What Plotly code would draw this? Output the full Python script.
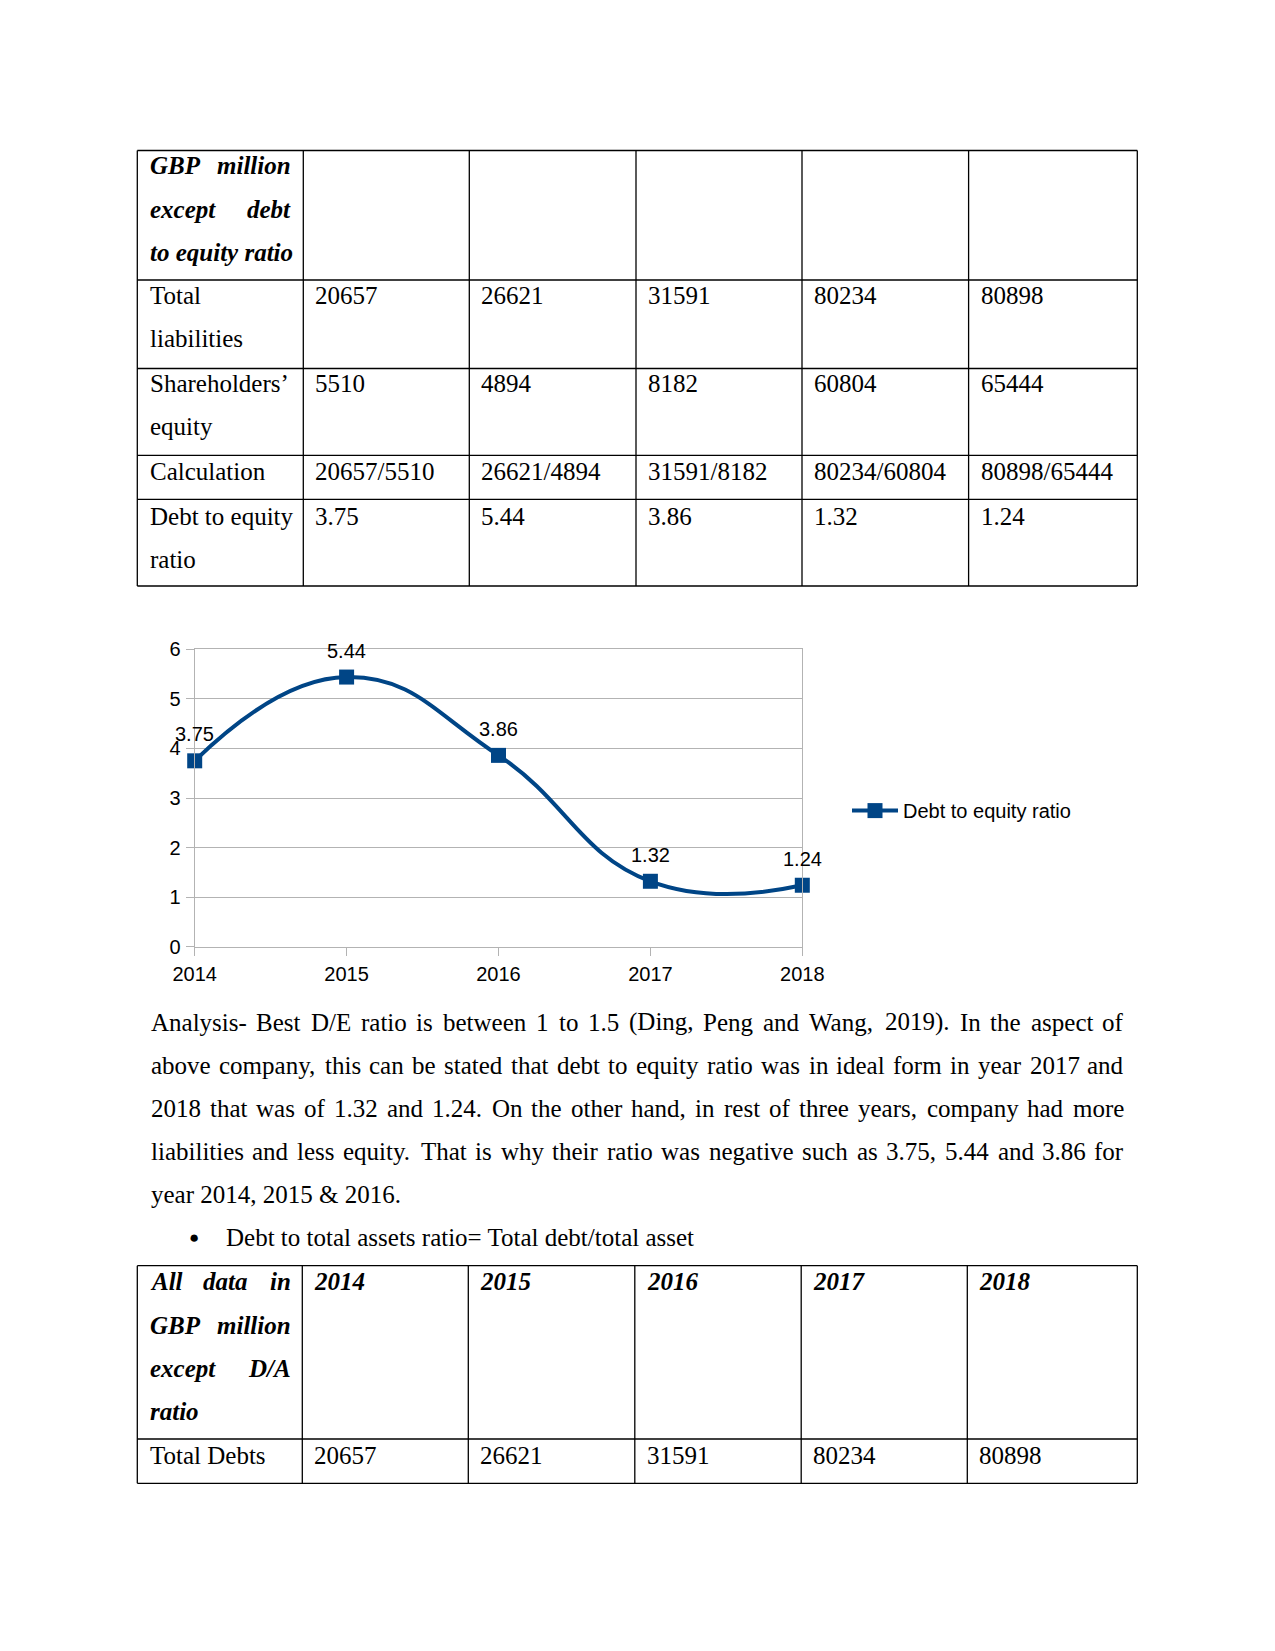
import plotly.graph_objects as go

# ---------------- data ----------------
years = [2014, 2015, 2016, 2017, 2018]
total_liabilities = [20657, 26621, 31591, 80234, 80898]
shareholders_equity = [5510, 4894, 8182, 60804, 65444]
de_ratio = [3.75, 5.44, 3.86, 1.32, 1.24]
y_ticks = [0, 1, 2, 3, 4, 5, 6]
series_name = "Debt to equity ratio"

paragraph_lines = [
    "Analysis- Best D/E ratio is between 1 to 1.5 (Ding, Peng and Wang, 2019). In the aspect of",
    "above company, this can be stated that debt to equity ratio was in ideal form in year 2017 and",
    "2018 that was of 1.32 and 1.24. On the other hand, in rest of three years, company had more",
    "liabilities and less equity. That is why their ratio was negative such as 3.75, 5.44 and 3.86 for",
    "year 2014, 2015 & 2016.",
]
bullet_text = "Debt to total assets ratio= Total debt/total asset"

# ---------------- page geometry ----------------
W, H = 1275, 1651
OFF = 8  # page body margin of the html page


def px(x):
    return (x - OFF) / W


def py(y):
    return 1 - (y - OFF) / H


TR = {' ': 250, '!': 333, '"': 408, '#': 500, '$': 500, '%': 833, '&': 778, "'": 180,
      '(': 333, ')': 333, '*': 500, '+': 564, ',': 250, '-': 333, '.': 250, '/': 278,
      ':': 278, ';': 278, '<': 564, '=': 564, '>': 564, '?': 444, '@': 921,
      'A': 722, 'B': 667, 'C': 667, 'D': 722, 'E': 611, 'F': 556, 'G': 722, 'H': 722,
      'I': 333, 'J': 389, 'K': 722, 'L': 611, 'M': 889, 'N': 722, 'O': 722, 'P': 556,
      'Q': 722, 'R': 667, 'S': 556, 'T': 611, 'U': 722, 'V': 722, 'W': 944, 'X': 722,
      'Y': 722, 'Z': 611, 'a': 444, 'b': 500, 'c': 444, 'd': 500, 'e': 444, 'f': 333,
      'g': 500, 'h': 500, 'i': 278, 'j': 278, 'k': 500, 'l': 278, 'm': 778, 'n': 500,
      'o': 500, 'p': 500, 'q': 500, 'r': 333, 's': 389, 't': 278, 'u': 500, 'v': 500,
      'w': 722, 'x': 500, 'y': 500, 'z': 444, '\u2019': 333}
for d in "0123456789":
    TR[d] = 500
TBI = dict(TR)
TBI.update({'A': 667, 'B': 667, 'D': 722, 'G': 722, 'P': 611, 'a': 500, 'n': 556,
            'u': 556, 'y': 444, 'r': 389, 'e': 444, 'x': 500})

FS = 25
SERIF = "Liberation Serif"
SANS = "Liberation Sans"
annotations = []
shapes = []


def text_w(s, table, size=FS):
    return sum(table.get(c, 500) for c in s) * size / 1000.0


def add_text(x, y, s, anchor="left", bi=False, size=FS, family=SERIF):
    t = f"<b><i>{s}</i></b>" if bi else s
    annotations.append(dict(x=px(x), y=py(y), xref="paper", yref="paper", text=t,
                            showarrow=False, xanchor=anchor, yanchor="middle",
                            borderpad=0, borderwidth=0,
                            font=dict(family=family, size=size, color="black")))


def justify(line, L, R, y, bi=False):
    words = line.split(" ")
    if len(words) == 1:
        add_text(L, y, line, bi=bi)
        return
    table = TBI if bi else TR
    ws = [text_w(w, table) for w in words]
    gap = (R - L - sum(ws)) / (len(words) - 1)
    x = L
    for i, w in enumerate(words):
        if i == len(words) - 1:
            add_text(R, y, w, anchor="right", bi=bi)
        else:
            add_text(x, y, w, bi=bi)
        x += ws[i] + gap


def hline(x0, x1, y):
    shapes.append(dict(type="line", xref="paper", yref="paper", x0=px(x0), x1=px(x1),
                       y0=py(y), y1=py(y), line=dict(color="black", width=1.3)))


def vline(x, y0, y1):
    shapes.append(dict(type="line", xref="paper", yref="paper", x0=px(x), x1=px(x),
                       y0=py(y0), y1=py(y1), line=dict(color="black", width=1.3)))


# ---------------- table 1 ----------------
cols1 = [137.3, 303.3, 469.3, 636, 802, 968.6, 1137.3]
rows1 = [150.5, 280, 368.5, 455.3, 499.3, 586]
for r in rows1:
    hline(cols1[0], cols1[-1], r)
for c in cols1:
    vline(c, rows1[0], rows1[-1])

LH = 43.3
PADL = 12
t1_left = 149.5
t1_right = 291.3

justify("GBP million", t1_left, t1_right, 166, bi=True)
justify("except debt", t1_left, t1_right, 166 + LH, bi=True)
add_text(t1_left, 166 + 2 * LH, "to equity ratio", bi=True)

row_labels1 = [["Total", "liabilities"], ["Shareholders\u2019", "equity"],
               ["Calculation"], ["Debt to equity", "ratio"]]
row_vals1 = [
    [str(v) for v in total_liabilities],
    [str(v) for v in shareholders_equity],
    [f"{a}/{b}" for a, b in zip(total_liabilities, shareholders_equity)],
    [f"{v:.2f}" for v in de_ratio],
]
row_first1 = [295.5, 383.3, 471.5, 516.3]
for lbls, vals, y0 in zip(row_labels1, row_vals1, row_first1):
    for k, s in enumerate(lbls):
        add_text(t1_left, y0 + k * LH, s)
    for j, v in enumerate(vals):
        add_text(cols1[j + 1] + PADL, y0, v)

# ---------------- chart ----------------
X0, X1 = 194.7, 802.3
Y_TOP, Y_BOT = 649.3, 946.7

fig = go.Figure()
fig.add_trace(go.Scatter(
    x=years, y=de_ratio, name=series_name,
    mode="lines+markers",
    line=dict(color="#004586", width=4, shape="spline", smoothing=1.3),
    marker=dict(symbol="square", size=15, color="#004586"),
    cliponaxis=False,
))
# data labels above each point
for xv, yv in zip(years, de_ratio):
    annotations.append(dict(x=xv, y=yv, xref="x", yref="y", text=f"{yv:.2f}",
                            showarrow=False, xanchor="center", yanchor="middle",
                            yshift=26.5, borderpad=0, borderwidth=0,
                            font=dict(family=SANS, size=20, color="black")))

axis_font = dict(family=SANS, size=20, color="black")
fig.update_xaxes(domain=[px(X0), px(X1)], range=[years[0], years[-1]],
                 tickvals=years, ticktext=[str(y) for y in years], automargin=False,
                 showgrid=False, zeroline=False, showline=True, linecolor="#b3b3b3",
                 linewidth=1, mirror=True, ticks="outside", ticklen=8,
                 tickcolor="#b3b3b3", tickfont=axis_font, ticklabelstandoff=1)
fig.update_yaxes(domain=[py(Y_BOT), py(Y_TOP)], range=[y_ticks[0], y_ticks[-1]],
                 tickvals=y_ticks, showgrid=True, gridcolor="#b3b3b3", gridwidth=1,
                 automargin=False,
                 zeroline=False, showline=True, linecolor="#b3b3b3", linewidth=1,
                 mirror=True, ticks="outside", ticklen=8, tickcolor="#b3b3b3",
                 tickfont=axis_font, ticklabelstandoff=1)

# ---------------- paragraph ----------------
P_L, P_R = 150.5, 1124.0
para_y = [1022.3, 1065.4, 1108.5, 1151.6, 1194.7]
for k, (line, y) in enumerate(zip(paragraph_lines, para_y)):
    if k < len(paragraph_lines) - 1:
        justify(line, P_L, P_R, y)
    else:
        add_text(P_L, y, line)

add_text(194, 1237, "\u25cf", anchor="center", size=17)
add_text(225.5, 1237.8, bullet_text)

# ---------------- table 2 ----------------
cols2 = [137.3, 302.3, 468.3, 634.8, 801.2, 967.3, 1137.3]
rows2 = [1265.7, 1439, 1483.3]
for r in rows2:
    hline(cols2[0], cols2[-1], r)
for c in cols2:
    vline(c, rows2[0], rows2[-1])

h2y = 1281.7
justify("All data in", t1_left, t1_right, h2y, bi=True)
justify("GBP million", t1_left, t1_right, h2y + LH, bi=True)
justify("except D/A", t1_left, t1_right, h2y + 2 * LH, bi=True)
add_text(t1_left, h2y + 3 * LH, "ratio", bi=True)
for j, yv in enumerate(years):
    add_text(cols2[j + 1] + PADL, h2y, str(yv), bi=True)

add_text(t1_left, 1455, "Total Debts")
for j, v in enumerate(total_liabilities):
    add_text(cols2[j + 1] + PADL, 1455, str(v))

fig.update_layout(
    width=W, height=H, autosize=False,
    margin=dict(l=0, r=0, t=0, b=0, pad=0, autoexpand=False),
    paper_bgcolor="white", plot_bgcolor="white",
    showlegend=True,
    legend=dict(x=px(847), y=py(810.6), xanchor="left", yanchor="middle",
                itemwidth=46,
                font=dict(family=SANS, size=20, color="black"),
                bgcolor="rgba(0,0,0,0)"),
    annotations=annotations,
    shapes=shapes,
)

fig.write_html("out.html")
